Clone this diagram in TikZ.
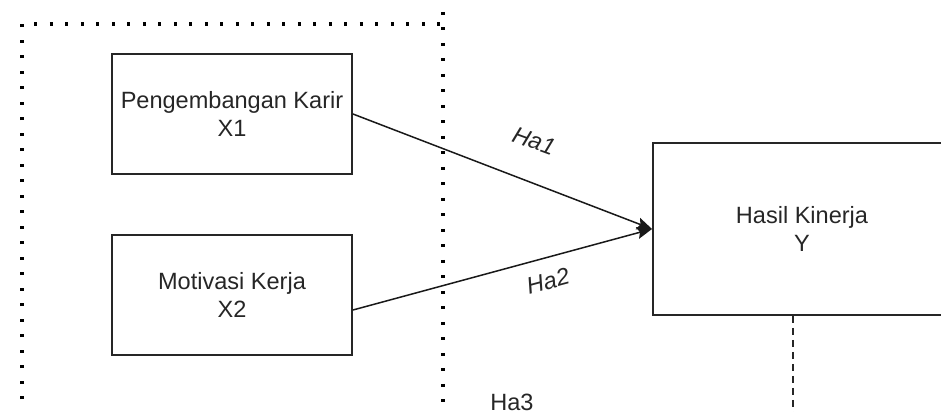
\documentclass[tikz,border=0pt]{standalone}
\usepackage{fontspec}
\setmainfont{Liberation Sans}
\usetikzlibrary{arrows.meta}

\begin{document}
\begin{tikzpicture}[
x=0.02cm, y=-0.02cm,
every node/.style={font=\fontsize{13.4}{15.5}\selectfont, text=black!85},
varbox/.style={rectangle, draw=black!85, line width=0.04cm, minimum width=4.8cm, minimum height=2.4cm, align=center},
resbox/.style={rectangle, draw=black!85, line width=0.04cm, minimum width=5.96cm, minimum height=3.44cm, align=center},
dotframe/.style={line width=0.07cm, dash pattern=on 0.06cm off 0.25cm},
hyparrow/.style={draw=black!90, line width=0.03cm, -{Stealth[length=0.3cm, width=0.24cm, inset=0.05cm]}},
hyplabel/.style={font=\fontsize{13.4}{15.5}\selectfont\itshape}
]
\useasboundingbox (0,0) rectangle (941,412);

%Frame
\draw[dotframe] (22,430) -- (22,24) -- (443,24);
\draw[dotframe] (443,12) -- (443,430);

%Nodes
\node[varbox] (x1) at (232,114) {Pengembangan Karir\\X1};
\node[varbox] (x2) at (232,295) {Motivasi Kerja\\X2};
\node[resbox] (y) at (802,229) {Hasil Kinerja\\Y};
\coordinate (h3) at (793,430);

%Lines
\draw[hyparrow] (x1.east) -- (y.west);
\draw[hyparrow] ([yshift=-0.3cm]x2.east) -- (y.west);
\draw[black!85, line width=0.03cm, dash pattern=on 0.14cm off 0.1cm] (h3 |- y.south) -- (h3);

%Labels
\node[hyplabel, rotate=-20] (ha1) at (534,141) {Ha1};
\node[hyplabel, rotate=15] (ha2) at (548,281) {Ha2};
\node (ha3) at (512,402) {Ha3};

\end{tikzpicture}
\end{document}
